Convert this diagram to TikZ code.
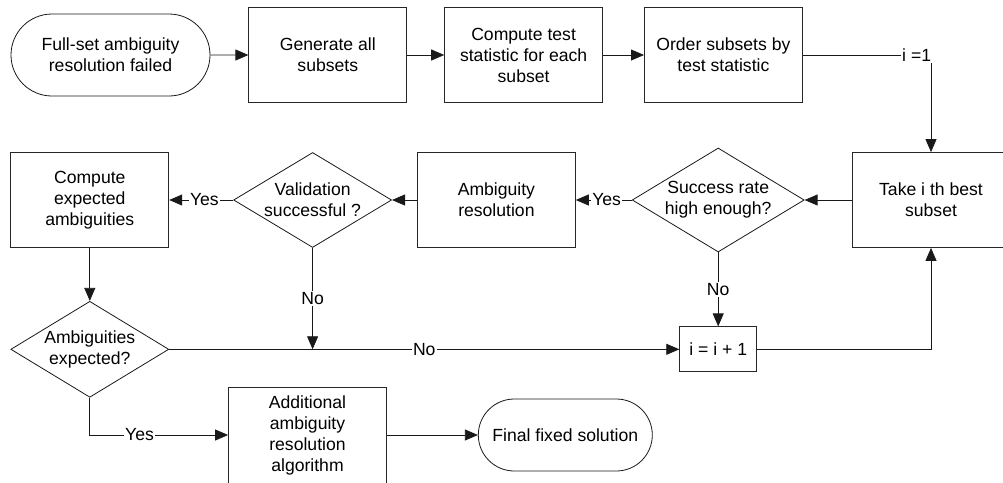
\documentclass[tikz,border=0pt]{standalone}
\usepackage{fontspec}
\setmainfont{Liberation Sans}
\usetikzlibrary{positioning,shapes.geometric,shapes.misc,arrows.meta}

\begin{document}
\begin{tikzpicture}[
    x=1pt, y=-1pt, % pixel-like units, y grows downwards
    font=\fontsize{17.6}{21}\selectfont,
    line width=0.8pt,
    block/.style={rectangle, draw=black!85, align=center, minimum width=158pt, minimum height=95pt, inner sep=2pt},
    terminal/.style={rounded rectangle, draw=black!90, align=center, inner sep=2pt},
    decision/.style={diamond, draw=black!90, align=center, aspect=1.65, inner sep=0pt},
    arrow/.style={draw=black!90, -{Triangle[length=13pt,width=11pt]}}, % filled triangle tip
    answer/.style={fill=white, inner sep=1.5pt}
]
    \useasboundingbox (0,0) rectangle (1003,482);

    % Nodes
    \node (start) [terminal, minimum width=203pt, minimum height=82pt] at (110.5,55) {Full-set ambiguity\\resolution failed};
    \node (gen) [block, right=38pt of start] {Generate all\\subsets};
    \node (comp) [block, right=37pt of gen] {Compute test\\statistic for each\\subset};
    \node (order) [block, right=41pt of comp] {Order subsets by\\test statistic};

    \node (take) [block] at (931,200) {Take i th best\\subset};
    \node (succ) [decision, minimum width=172pt, minimum height=104pt, left=47pt of take] {Success rate\\high enough?};
    \node (ambres) [block, left=56pt of succ] {Ambiguity\\resolution};
    \node (valid) [decision, minimum width=158pt, minimum height=95pt, left=25pt of ambres] {Validation\\successful ?};
    \node (compexp) [block, left=64pt of valid] {Compute\\expected\\ambiguities};

    \node (ambexp) [decision, minimum width=158pt, minimum height=96pt, below=53pt of compexp] {Ambiguities\\expected?};
    \node (inc) [block, minimum width=77pt, minimum height=45pt] at (succ |- ambexp) {i = i + 1};
    \coordinate (join) at (valid |- ambexp);

    \node (addl) [block, minimum height=96pt] at (307.5,435) {Additional\\ambiguity\\resolution\\algorithm};
    \node (final) [terminal, minimum width=178pt, minimum height=72pt, right=91pt of addl] {Final fixed solution};

    % Connections
    \path [arrow] (start) -- (gen);
    \path [arrow] (gen) -- (comp);
    \path [arrow] (comp) -- (order);
    \path [arrow] (order) -| node[answer, pos=0.5, anchor=east, xshift=2pt] {i =1} (take);
    \path [arrow] (take) -- (succ);
    \path [arrow] (succ) -- node[answer, pos=0.45] {Yes} (ambres);
    \path [arrow] (ambres) -- (valid);
    \path [arrow] (valid) -- node[answer, pos=0.45] {Yes} (compexp);
    \path [arrow] (compexp) -- (ambexp);
    \path [arrow] (valid) -- node[answer] {No} (join);
    \path [arrow] (succ) -- node[answer] {No} (inc);
    \path [arrow] (ambexp) -- node[answer] {No} (inc);
    \path [arrow] (inc) -| (take);
    \path [arrow] (ambexp) |- node[answer, pos=0.68] {Yes} (addl);
    \path [arrow] (addl) -- (final);

\end{tikzpicture}
\end{document}
